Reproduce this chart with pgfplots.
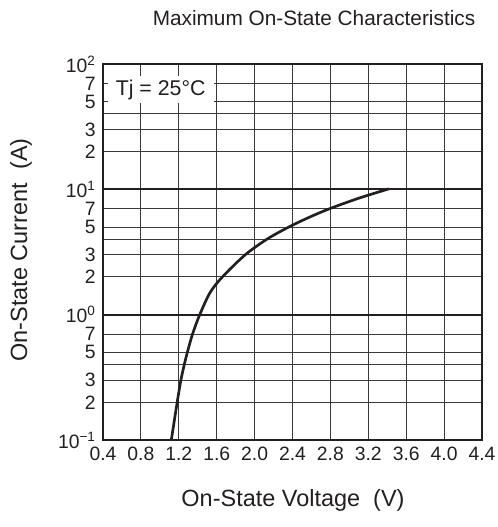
\documentclass[border=0pt]{standalone}
\usepackage{pgfplots}
\pgfplotsset{compat=1.18}
\usepackage{fontspec}
\setmainfont{Liberation Sans}
\definecolor{ink}{HTML}{231F20}
\definecolor{gridc}{HTML}{3A3A3A}

\begin{document}
\begin{tikzpicture}
\useasboundingbox (-77.25pt,-65.25pt) rectangle (296.25pt,330pt);
\begin{axis}[
  at={(0,0)}, anchor=south west,
  scale only axis,
  width=284.25pt, height=282pt,
  ymode=log,
  xmin=0.4, xmax=4.4,
  ymin=0.1, ymax=100,
  xtick={0.4,0.8,...,4.4},
  xticklabels={0.4,0.8,1.2,1.6,2.0,2.4,2.8,3.2,3.6,4.0,4.4},
  ytick={0.1,0.2,0.3,0.4,0.5,0.7,1,2,3,4,5,7,10,20,30,40,50,70,100},
  yticklabels={10\textsuperscript{−1},2,3,,5,7,10\textsuperscript{0},2,3,,5,7,10\textsuperscript{1},2,3,,5,7,10\textsuperscript{2}},
  minor ytick={},
  major tick length=0pt,
  grid=major,
  grid style={gridc, line width=0.8pt},
  extra y ticks={1,10},
  extra y tick labels={},
  extra y tick style={grid style={ink, line width=1.3pt}},
  axis line style={ink, line width=1.8pt},
  tick label style={ink, font=\fontsize{14.5}{16}\selectfont},
  xticklabel style={yshift=-2pt},
  yticklabel style={xshift=-2pt},
  clip=true,
]
\addplot[ink, line width=2pt, smooth] coordinates {
  (1.121,0.1) (1.183,0.2) (1.222,0.3) (1.258,0.4) (1.290,0.5)
  (1.345,0.7) (1.421,1.0) (1.530,1.5) (1.660,2.0) (1.900,3)
  (2.13,4) (2.36,5) (2.58,6) (2.79,7) (3.10,8.5) (3.42,10.1)
};
\node[fill=white, inner xsep=6pt, inner ysep=3pt, anchor=north west, text=ink,
      font=\fontsize{16}{18}\selectfont]
  at (rel axis cs:0.012,0.97) {Tj = 25°C};
\end{axis}
\node[text=ink, font=\fontsize{15.6}{18}\selectfont] at (158.25pt,316.5pt) {Maximum On-State Characteristics};
\node[text=ink, font=\fontsize{17.6}{20}\selectfont] at (142.5pt,-45pt) {On-State Voltage\ \ (V)};
\node[text=ink, font=\fontsize{17.6}{20}\selectfont, rotate=90] at (-61.5pt,142.5pt) {On-State Current\ \ (A)};
\end{tikzpicture}
\end{document}
